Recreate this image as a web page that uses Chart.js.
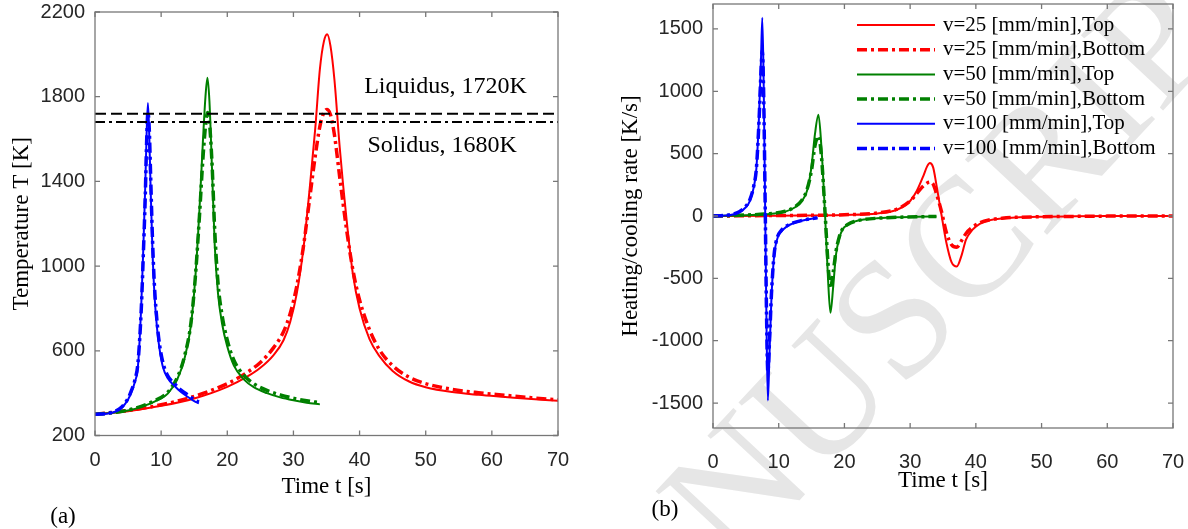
<!DOCTYPE html>
<html>
<head>
<meta charset="utf-8">
<script src="https://cdn.jsdelivr.net/npm/chart.js@4.4.1/dist/chart.umd.min.js"></script>
<style>
  html, body { margin: 0; padding: 0; background: #fff; }
  body { width: 1188px; height: 529px; position: relative; overflow: hidden; }
  canvas { position: absolute; top: 0; }
  #tempChart { left: 0; }
  #rateChart { left: 594px; }
</style>
</head>
<body>
<canvas id="tempChart" width="594" height="529"></canvas>
<canvas id="rateChart" width="594" height="529"></canvas>
<script>
// ---- temperature history, v = 100 mm/min
const tTemp100 = [0, 2, 3, 4, 5, 5.5, 6, 6.5, 7, 7.3, 7.6, 7.8, 8.0, 8.2, 8.4, 8.7, 9.0, 9.4, 9.8, 10.3, 11, 12, 13, 14, 15, 15.7];
const temp100Top = [300, 304, 312, 330, 370, 405, 450, 530, 820, 1080, 1380, 1620, 1770, 1620, 1380, 1060, 860, 700, 600, 520, 470, 435, 405, 383, 362, 352];
const temp100Bot = [300, 305, 314, 333, 375, 412, 458, 545, 800, 1050, 1330, 1580, 1725, 1650, 1440, 1120, 900, 730, 620, 540, 482, 445, 415, 392, 370, 358];

// ---- temperature history, v = 50 mm/min
const tTemp50 = [0, 3, 5, 7, 9, 11, 12.5, 13.5, 14.5, 15.2, 15.8, 16.3, 16.7, 17.0, 17.3, 17.7, 18.1, 18.6, 19.2, 20, 21, 22.5, 24, 26, 28, 30, 32, 34];
const temp50Top = [300, 308, 318, 335, 360, 398, 470, 560, 720, 960, 1270, 1580, 1800, 1890, 1780, 1450, 1100, 870, 730, 620, 530, 465, 428, 400, 380, 366, 355, 347];
const temp50Bot = [300, 309, 320, 338, 364, 405, 478, 570, 730, 960, 1240, 1500, 1660, 1725, 1680, 1480, 1170, 920, 770, 650, 555, 485, 445, 413, 392, 376, 364, 355];

// ---- temperature history, v = 25 mm/min
const tTemp25 = [0, 5, 10, 15, 20, 23, 25, 27, 28.5, 29.5, 30.5, 31.5, 32.5, 33.3, 34, 34.6, 35.1, 35.6, 36.2, 37, 38, 39, 40, 41.5, 43, 45, 47.5, 50, 54, 58, 62, 66, 70];
const temp25Top = [300, 315, 340, 375, 430, 478, 520, 580, 650, 735, 870, 1080, 1380, 1650, 1930, 2060, 2095, 2040, 1880, 1560, 1230, 960, 800, 655, 575, 505, 455, 428, 405, 392, 382, 372, 364];
const temp25Bot = [300, 318, 345, 385, 445, 498, 545, 615, 690, 775, 905, 1090, 1330, 1520, 1660, 1725, 1740, 1715, 1620, 1420, 1180, 980, 840, 700, 605, 530, 475, 445, 418, 402, 390, 378, 368];

// phase change temperatures [K]
const liquidus = 1720;
const solidus = 1680;

// ---- heating / cooling rate, v = 100 mm/min
const tRate100 = [0, 2, 3, 4, 5, 5.6, 6.2, 6.6, 7.0, 7.3, 7.5, 7.7, 7.95, 8.15, 8.35, 8.6, 8.9, 9.3, 9.8, 10.4, 11.2, 12.2, 13.5, 15, 15.9];
const rate100Top = [0, 5, 12, 30, 70, 120, 230, 380, 800, 1250, 1590, 1100, 0, -900, -1480, -1100, -650, -320, -180, -125, -85, -58, -38, -22, -15];
const rate100Bot = [0, 6, 14, 34, 78, 130, 240, 380, 760, 1150, 1330, 1000, 50, -800, -1250, -1000, -620, -310, -170, -115, -80, -55, -36, -21, -15];

// ---- heating / cooling rate, v = 50 mm/min
const tRate50 = [0, 4, 8, 11, 12.5, 13.5, 14.3, 15, 15.5, 16.05, 16.5, 17.06, 17.5, 17.87, 18.3, 18.7, 19.2, 19.7, 20.5, 21.5, 23, 25, 28, 31, 34];
const rate50Top = [0, 5, 14, 35, 70, 120, 200, 400, 650, 811, 550, 0, -500, -776, -560, -316, -180, -110, -70, -45, -28, -18, -10, -6, -4];
const rate50Bot = [0, 6, 16, 38, 75, 125, 210, 370, 560, 640, 480, 20, -380, -580, -450, -290, -170, -105, -68, -44, -28, -18, -10, -6, -4];

// ---- heating / cooling rate, v = 25 mm/min
const tRate25 = [0, 10, 20, 25, 28, 30, 31, 32, 32.6, 33.0, 33.5, 34.0, 34.8, 35.5, 36.3, 37.1, 37.8, 38.5, 39.5, 40.6, 42, 44, 46, 50, 55, 60, 70];
const rate25Top = [0, 3, 8, 20, 50, 120, 200, 320, 400, 425, 390, 250, 0, -210, -370, -405, -320, -190, -110, -64, -35, -20, -12, -6, -3, -1, 0];
const rate25Bot = [0, 4, 10, 24, 55, 120, 180, 240, 265, 272, 255, 180, 30, -130, -230, -250, -200, -140, -90, -55, -32, -18, -11, -6, -3, -1, 0];

// tick positions
const timeTicks = [0, 10, 20, 30, 40, 50, 60, 70];
const tempTicks = [200, 600, 1000, 1400, 1800, 2200];
const rateTicks = [-1500, -1000, -500, 0, 500, 1000, 1500];

const seriesLabels = [
  'v=25 [mm/min],Top', 'v=25 [mm/min],Bottom',
  'v=50 [mm/min],Top', 'v=50 [mm/min],Bottom',
  'v=100 [mm/min],Top', 'v=100 [mm/min],Bottom'
];

const RED = '#ff0000', GREEN = '#008000', BLUE = '#0000ff';
const SERIF = '"Liberation Serif", "Times New Roman", serif';
const SANS = '"Liberation Sans", Arial, sans-serif';
const DASHDOT = [10, 4, 3, 4];

function pts(xs, ys) {
  return xs.map((x, i) => ({ x: x, y: ys[i] }));
}

function curve(label, xs, ys, color, bottom, order) {
  return {
    label: label,
    data: pts(xs, ys),
    borderColor: color,
    borderWidth: bottom ? 3.5 : 2,
    borderDash: bottom ? DASHDOT : [],
    cubicInterpolationMode: 'monotone',
    pointRadius: 0,
    fill: false,
    order: order
  };
}

// MATLAB style box with inward ticks on all four sides
const axesBox = {
  id: 'axesBox',
  afterDatasetsDraw(chart) {
    const { ctx, chartArea: a, scales: { x, y } } = chart;
    ctx.save();
    ctx.strokeStyle = '#777';
    ctx.lineWidth = 1.3;
    ctx.setLineDash([]);
    ctx.strokeRect(a.left, a.top, a.width, a.height);
    ctx.beginPath();
    x.ticks.forEach(t => {
      const px = x.getPixelForValue(t.value);
      ctx.moveTo(px, a.bottom); ctx.lineTo(px, a.bottom - 5);
      ctx.moveTo(px, a.top); ctx.lineTo(px, a.top + 5);
    });
    y.ticks.forEach(t => {
      const py = y.getPixelForValue(t.value);
      ctx.moveTo(a.left, py); ctx.lineTo(a.left + 5, py);
      ctx.moveTo(a.right, py); ctx.lineTo(a.right - 5, py);
    });
    ctx.stroke();
    ctx.restore();
  }
};

// panel tag under the axes, e.g. "(a)"
function panelTag(text, px, py) {
  return {
    id: 'panelTag',
    afterDraw(chart) {
      const ctx = chart.ctx;
      ctx.save();
      ctx.font = '23px ' + SERIF;
      ctx.fillStyle = '#000';
      ctx.textAlign = 'center';
      ctx.textBaseline = 'middle';
      ctx.fillText(text, px, py);
      ctx.restore();
    }
  };
}

function axisOpts(min, max, tickValues, title, size, titlePad, tickPad) {
  return {
    type: 'linear', min: min, max: max,
    afterBuildTicks: s => { s.ticks = tickValues.map(v => ({ value: v })); },
    ticks: {
      padding: tickPad, color: '#262626', maxRotation: 0, autoSkip: false,
      font: { family: SANS, size: 20 },
      callback: v => String(v)
    },
    grid: { display: false, drawTicks: false },
    border: { display: false },
    title: { display: true, text: title, color: '#000', font: { family: SERIF, size: 23 }, padding: titlePad },
    afterFit: s => {
      if (s.isHorizontal()) s.height = size; else s.width = size;
      // keep the plot box where the layout padding puts it
      s.paddingTop = s.paddingBottom = s.paddingLeft = s.paddingRight = 0;
    }
  };
}

// ---------------- (a) temperature ----------------
const phaseLabels = {
  id: 'phaseLabels',
  afterDatasetsDraw(chart) {
    const { ctx, scales: { x, y } } = chart;
    ctx.save();
    ctx.font = '24px ' + SERIF;
    ctx.fillStyle = '#000';
    ctx.textBaseline = 'middle';
    ctx.fillText('Liquidus, ' + liquidus + 'K', x.getPixelForValue(40.7), y.getPixelForValue(1846));
    ctx.fillText('Solidus, ' + solidus + 'K', x.getPixelForValue(41.2), y.getPixelForValue(1567));
    ctx.restore();
  }
};

new Chart(document.getElementById('tempChart'), {
  type: 'line',
  data: {
    datasets: [
      { label: 'Liquidus', data: pts([0, 70], [liquidus, liquidus]), borderColor: '#000', borderWidth: 2, borderDash: [11, 5], pointRadius: 0, order: 0 },
      { label: 'Solidus', data: pts([0, 70], [solidus, solidus]), borderColor: '#000', borderWidth: 2, borderDash: DASHDOT, pointRadius: 0, order: 0 },
      curve(seriesLabels[0], tTemp25, temp25Top, RED, false, 6),
      curve(seriesLabels[1], tTemp25, temp25Bot, RED, true, 5),
      curve(seriesLabels[2], tTemp50, temp50Top, GREEN, false, 4),
      curve(seriesLabels[3], tTemp50, temp50Bot, GREEN, true, 3),
      curve(seriesLabels[4], tTemp100, temp100Top, BLUE, false, 2),
      curve(seriesLabels[5], tTemp100, temp100Bot, BLUE, true, 1)
    ]
  },
  options: {
    responsive: false,
    animation: false,
    layout: { padding: { left: 0, top: 12, right: 36, bottom: 0 } },
    plugins: { legend: { display: false }, tooltip: { enabled: false } },
    scales: {
      x: axisOpts(0, 70, timeTicks, 'Time t [s]', 93.5, { top: 0, bottom: 28 }, 13),
      y: axisOpts(200, 2200, tempTicks, 'Temperature T [K]', 95, { top: 8, bottom: 0 }, 10)
    }
  },
  plugins: [axesBox, phaseLabels, panelTag('(a)', 63, 517)]
});

// ---------------- (b) heating / cooling rate ----------------
const watermark = {
  id: 'watermark',
  beforeDraw(chart) {
    const ctx = chart.ctx;
    ctx.save();
    ctx.translate(-47, 771);
    ctx.rotate(-47 * Math.PI / 180);
    ctx.font = '170px ' + SERIF;
    ctx.fillStyle = '#e6e6e6';
    ctx.fillText('MANUSCRIPT', 0, 0);
    ctx.restore();
  }
};

const lineLegend = {
  id: 'lineLegend',
  afterDatasetsDraw(chart) {
    const ctx = chart.ctx;
    ctx.save();
    ctx.font = '21px ' + SERIF;
    ctx.textBaseline = 'middle';
    chart.data.datasets.forEach((ds, i) => {
      const y = 25 + i * 24.7;
      ctx.strokeStyle = ds.borderColor;
      ctx.lineWidth = ds.borderWidth;
      ctx.setLineDash(ds.borderDash || []);
      ctx.beginPath();
      ctx.moveTo(263, y);
      ctx.lineTo(341, y);
      ctx.stroke();
      ctx.fillStyle = '#000';
      ctx.fillText(ds.label, 349, y);
    });
    ctx.restore();
  }
};

new Chart(document.getElementById('rateChart'), {
  type: 'line',
  data: {
    datasets: [
      curve(seriesLabels[0], tRate25, rate25Top, RED, false, 6),
      curve(seriesLabels[1], tRate25, rate25Bot, RED, true, 5),
      curve(seriesLabels[2], tRate50, rate50Top, GREEN, false, 4),
      curve(seriesLabels[3], tRate50, rate50Bot, GREEN, true, 3),
      curve(seriesLabels[4], tRate100, rate100Top, BLUE, false, 2),
      curve(seriesLabels[5], tRate100, rate100Bot, BLUE, true, 1)
    ]
  },
  options: {
    responsive: false,
    animation: false,
    layout: { padding: { left: 0, top: 4, right: 15, bottom: 0 } },
    plugins: { legend: { display: false }, tooltip: { enabled: false } },
    scales: {
      x: axisOpts(0, 70, timeTicks, 'Time t [s]', 101, { top: 0, bottom: 34 }, 22),
      y: axisOpts(-1700, 1700, rateTicks, 'Heating/cooling rate [K/s]', 119, { top: 23, bottom: 0 }, 10)
    }
  },
  plugins: [watermark, axesBox, lineLegend, panelTag('(b)', 71, 510)]
});
</script>
</body>
</html>
